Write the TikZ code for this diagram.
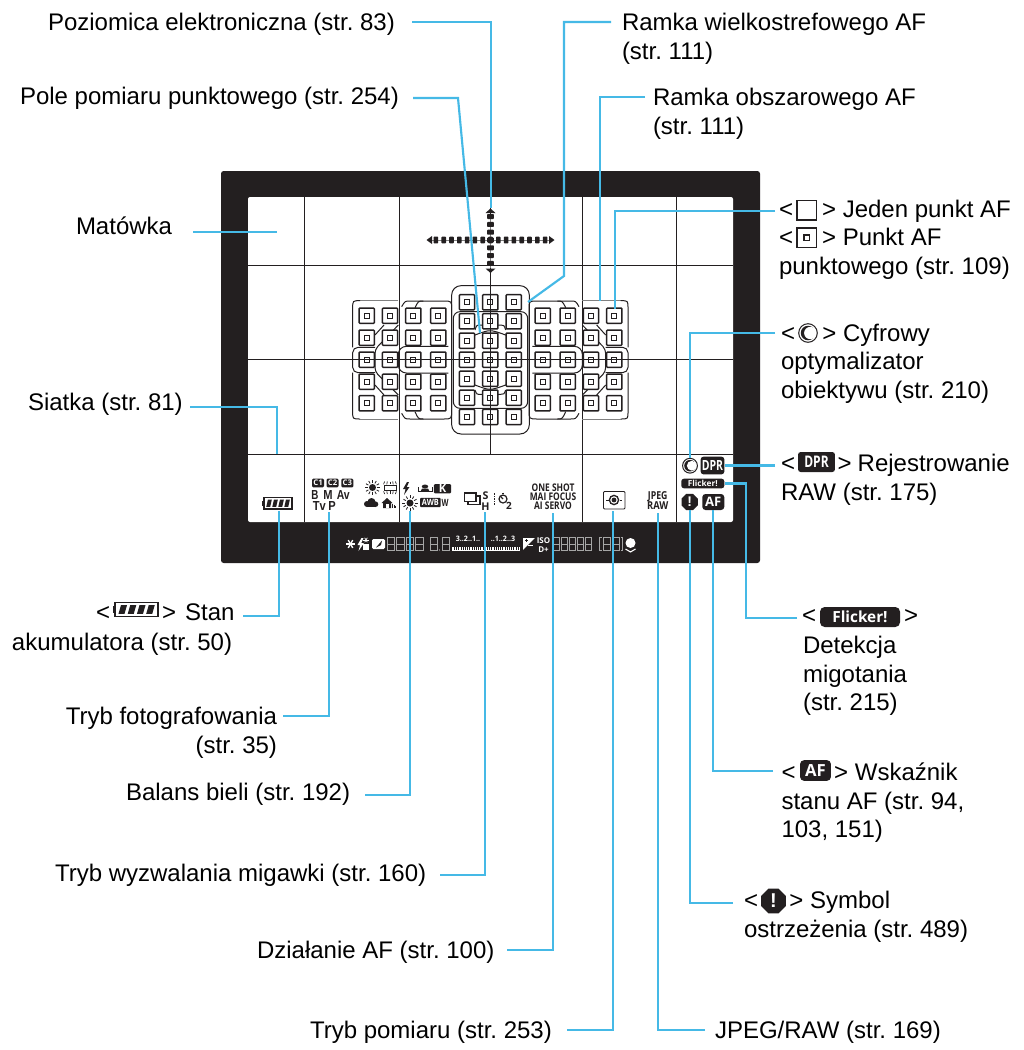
\documentclass[tikz,border=0pt]{standalone}
\usepackage{fontspec}
\usetikzlibrary{shapes.geometric}
\setmainfont{Liberation Sans}
\setsansfont{Open Sans}
\frenchspacing
\definecolor{ink}{HTML}{231F20}
\definecolor{lead}{HTML}{45B9E6}
\newcommand\mylab[4]{\node[lbl] (#1) at (#2,#3-18.67) {\rule{0pt}{14pt}#4};}
\newcommand\afpt[2]{\draw[afbox] (#1-7.6,#2-7.6) rectangle (#1+7.6,#2+7.6);\draw[afin] (#1-2.4,#2-2.4) rectangle (#1+2.4,#2+2.4);}
\newcommand\myseg[3]{\draw[lcd] (#1,#2) rectangle (#1+#3,#2+6.5) (#1,#2+6.5) rectangle (#1+#3,#2+13);}
\newcommand\mybolt[3]{\fill[#3] (#1+4,#2) -- (#1,#2+7) -- (#1+2.6,#2+7) -- (#1+1,#2+13) -- (#1+6.5,#2+5) -- (#1+3.8,#2+5) -- (#1+6,#2) -- cycle;}
\newcommand\mysun[3]{\fill[ink] (#1,#2) circle (#3*.5);\foreach \a in {0,30,...,330}{\draw[ink,line width=.6pt] (#1,#2) ++(\a:#3*.68) -- ++(\a:#3*.4);}}
\newcommand\mybatt[5]{% x y w h bar-width
  \fill[ink] (#1-2.5,#2+#4*.28) rectangle (#1,#2+#4*.72);
  \draw[ink,line width=1pt,fill=white] (#1,#2) rectangle (#1+#3,#2+#4);
  \foreach \i in {0,1,2,3}{\fill[ink] (#1+.09*#3+\i*.215*#3+.05*#3,#2+.18*#4) -- (#1+.09*#3+\i*.215*#3+.19*#3,#2+.18*#4) -- (#1+.09*#3+\i*.215*#3+.13*#3,#2+.82*#4) -- (#1+.09*#3+\i*.215*#3-.01*#3,#2+.82*#4) -- cycle;}}
\newcommand\mydlo[3]{% x y radius
  \fill[ink] (#1,#2) circle (#3*.78);
  \fill[white] (#1+#3*.24,#2) circle (#3*.66);
  \draw[ink,line width=.75pt] (#1,#2) circle (#3);}
\newcommand\leftzones{%
  \draw[zone,gray] (175,92) -- (60,92);
  \draw[zone] (60,92) .. controls (38,92) .. (38,115) -- (38,232);
  \draw[zone] (38,308) -- (38,425) .. controls (38,447) .. (60,447);
  \draw[zone,gray] (60,447) -- (175,447);
  \draw[zone] (185,110) .. controls (195,93) .. (210,93) -- (310,93) .. controls (335,93) .. (335,118) -- (335,420) .. controls (335,447) .. (310,447) -- (210,447) .. controls (195,447) .. (185,430);
  \draw[zone] (225,113) .. controls (235,93) .. (250,93);
  \draw[zone] (225,425) .. controls (235,447) .. (250,447);
  \draw[zone,rounded corners=6pt] (325,229) -- (175,229) -- (175,309) -- (325,309);
  \draw[zone,rounded corners=4pt] (105,232) -- (38,232) -- (38,308) -- (105,308);
  \draw[zone,rounded corners=3pt] (175,165) -- (105,238) -- (105,305) -- (175,375);
  \draw[zone] (105,195) -- (132,165);
  \draw[zone] (105,345) -- (132,375);
}
\tikzset{
  lbl/.style={anchor=north west,inner sep=0pt,outer sep=0pt,align=left,text=black,font=\fontsize{18}{21.4}\selectfont},
  lead/.style={draw=lead,line width=1.6pt},
  grid/.style={draw=ink,line width=.75pt},
  afbox/.style={draw=ink,line width=1.1pt,fill=white,rounded corners=.6pt},
  afin/.style={draw=ink,line width=.8pt},
  zone/.style={draw=ink,line width=.75pt},
  lcd/.style={draw=white!65!black,line width=.4pt},
  scrb/.style={inner sep=0pt,anchor=base,text=ink,font=\fontsize{9.8}{10}\selectfont\bfseries},
  scro/.style={inner sep=0pt,anchor=base,text=ink,font=\sffamily\fontsize{7.9}{8}\selectfont\bfseries},
  blackbox/.style={fill=ink,rounded corners=1.4pt,inner sep=0pt,text=white,font=\sffamily\bfseries},
  lcdt/.style={inner sep=0pt,anchor=base,text=white,font=\sffamily\bfseries\fontsize{5.6}{6}\selectfont},
}
\begin{document}
\begin{tikzpicture}[x=.75pt,y=-.75pt]
\useasboundingbox (0,0) rectangle (1024,1050);
\fill[white] (0,0) rectangle (1024,1050);
% frame and screen
\fill[ink,rounded corners=2pt] (221,171) rectangle (760,563);
\fill[white,rounded corners=1.5pt] (248,197) rectangle (733,522);
\foreach \x in {304.5,399.3,582.3,676}{\draw[grid] (\x,197) -- (\x,522);}
\draw[grid] (490.5,197) -- (490.5,454);
\foreach \y in {265,359.7,454}{\draw[grid] (248,\y) -- (733,\y);}
% AF zones
\begin{scope}[shift={(340,270)},x=.25pt,y=-.25pt]
  \leftzones
  \draw[zone,rounded corners=7pt] (335,47) rectangle (568,492);
  \draw[zone,rounded corners=5pt] (340,125) rectangle (563,415);
  \draw[zone] (370,235) .. controls (375,205) .. (405,195) .. controls (450,178) .. (497,195) .. controls (527,205) .. (532,235);
  \draw[zone] (370,305) .. controls (375,335) .. (405,345) .. controls (450,362) .. (497,345) .. controls (527,335) .. (532,305);
  \draw[zone] (405,180) .. controls (410,165) .. (422,165) -- (482,165) .. controls (492,165) .. (497,180);
  \draw[zone] (405,360) .. controls (410,373) .. (422,373) -- (482,373) .. controls (492,373) .. (497,360);
\end{scope}
\begin{scope}[shift={(640.67,270)},x=-.25pt,y=-.25pt]
  \leftzones
\end{scope}
% AF points
\foreach \x in {366.7,390,413.3,438.3,542.7,567.7,591,614.3}{\foreach \y in {315.7,337.7,359.7,381.7,403.3}{\afpt{\x}{\y}}}
\foreach \x in {467,490.3,513.7}{\foreach \y in {302.3,321.3,340.7,359.7,378.7,397.7,417}{\afpt{\x}{\y}}}
% grid lines over the AF points
\draw[grid] (340,359.7) -- (640,359.7);
\draw[grid] (490.5,272) -- (490.5,454);
% electronic level
\draw[line width=.7pt,gray] (430,240) -- (550,240);
\draw[line width=.7pt,gray] (490.5,214) -- (490.5,268);
\foreach \i in {-7,...,7}{\fill[ink,rounded corners=.5pt] (490.5+\i*7.8-2.3,236.7) rectangle (490.5+\i*7.8+2.3,243.3);}
\foreach \i in {-3,...,3}{\fill[ink,rounded corners=.5pt] (487.2,240+\i*7.8-2.5) rectangle (493.8,240+\i*7.8+2.5);}
\fill[ink] (426.5,240) -- (432,236) -- (432,244) -- cycle;
\fill[ink] (554.5,240) -- (549,236) -- (549,244) -- cycle;
\fill[ink] (490.5,208.5) -- (485.5,213) -- (495.5,213) -- cycle;
\fill[ink] (490.5,273) -- (485.5,268.5) -- (495.5,268.5) -- cycle;
% screen icons
\mybatt{264}{497.5}{28}{11.5}{}
\node[blackbox,minimum width=9pt,minimum height=6.4pt,rounded corners=.8pt,font=\sffamily\bfseries\fontsize{5.8}{6}\selectfont] (cone) at (318,483) {C1};
\node[blackbox,minimum width=9pt,minimum height=6.4pt,rounded corners=.8pt,font=\sffamily\bfseries\fontsize{5.8}{6}\selectfont] (ctwo) at (332.5,483) {C2};
\node[blackbox,minimum width=9pt,minimum height=6.4pt,rounded corners=.8pt,font=\sffamily\bfseries\fontsize{5.8}{6}\selectfont] (cthree) at (347.3,483) {C3};
\node[scrb] (bmode) at (315,499) {\scalebox{.75}[1]{B}};
\node[scrb] (mmode) at (328,499) {\scalebox{.85}[1]{M}};
\node[scrb] (avmode) at (343.3,499) {\scalebox{.8}[1]{Av}};
\node[scrb] (tvmode) at (319.3,510) {\scalebox{.85}[1]{Tv}};
\node[scrb] (pmode) at (332,510) {\scalebox{.85}[1]{P}};
\mysun{372.5}{487.5}{7}
\draw[ink,line width=.7pt] (384,485.5) rectangle (396,490);
\foreach \i in {-2,...,2}{\draw[ink,line width=.5pt] (390+\i*2.7,481.5) -- (390+\i*3.2,484.3);\draw[ink,line width=.5pt] (390+\i*2.7,494) -- (390+\i*3.2,491.3);}
\fill[ink] (367,504) circle (3);\fill[ink] (371.5,502) circle (4);\fill[ink] (375.5,504.2) circle (2.8);\fill[ink] (367,504) rectangle (375.5,507);
\fill[ink] (381.5,503) -- (387,498) -- (392.5,503) -- (391,503) -- (391,508) -- (383,508) -- (383,503) -- cycle;
\fill[white] (385.5,504) rectangle (388.5,508);
\foreach \i in {0,1,2}{\draw[ink,line width=.4pt] (392.5+\i*1.6,503.5+\i*1.4) -- (392.5+\i*1.6,508);}
\mybolt{403}{482}{ink}
\fill[ink] (425,486.5) ellipse (3.2 and 2);
\draw[ink,line width=.7pt] (418,487) -- (418,491.5) -- (432,491.5) -- (432,487);
\fill[ink] (420.5,491.5) -- (422,488.5) -- (428,488.5) -- (429.5,491.5) -- cycle;
\node[blackbox,minimum width=12.8pt,minimum height=7pt,rounded corners=.8pt,font=\sffamily\bfseries\fontsize{8.4}{9}\selectfont] (kbox) at (442.5,488.7) {K};
\mysun{410}{503}{7}
\node[blackbox,minimum width=15.5pt,minimum height=7pt,rounded corners=.8pt,font=\sffamily\bfseries\fontsize{6.5}{7}\selectfont] (awb) at (430.4,502.5) {\scalebox{.85}[1]{AWB}};
\node[scrb,font=\sffamily\bfseries\fontsize{7.5}{8}\selectfont] (awbw) at (445,506.5) {\scalebox{.72}[1]{W}};
\draw[ink,line width=.8pt,fill=white] (468,496) rectangle (480,504.5);
\draw[ink,line width=.8pt,fill=white] (464.5,493) rectangle (476,501.5);
\node[scro,font=\sffamily\bfseries\fontsize{8}{9}\selectfont] (drs) at (485.5,499) {S};
\node[scro,font=\sffamily\bfseries\fontsize{8}{9}\selectfont] (drh) at (485.5,510) {H};
\foreach \y in {493,495.5,498,500.5,503.2}{\fill[ink] (493.5,\y) rectangle (495,\y+1.6);}
\draw[ink,line width=.9pt] (503,499) circle (4);
\draw[ink,line width=.9pt] (503,499) -- (500.5,496.3);
\draw[ink,line width=.9pt] (503,492.5) -- (503,494);
\node[scro,font=\sffamily\bfseries\fontsize{7.5}{8}\selectfont] (timertwo) at (509,509.7) {2};
\node[scro] (oneshot) at (553,491.7) {\scalebox{.8}[1]{ONE SHOT}};
\node[scro] (maifocus) at (553,500.4) {\scalebox{.8}[1]{MAI FOCUS}};
\node[scro] (aiservo) at (553,509.4) {\scalebox{.8}[1]{AI SERVO}};
\draw[ink,line width=.7pt,rounded corners=.8pt] (603.5,491.5) rectangle (625,509);
\draw[ink,line width=1pt] (614,500) circle (4.6);
\fill[ink] (614,500) circle (2.4);
\draw[ink,line width=.6pt] (606,500) -- (608.5,500) (619.5,500) -- (622,500);
\node[scro,font=\sffamily\bfseries\fontsize{8.2}{9}\selectfont] (jpegt) at (657.7,499) {\scalebox{.8}[1]{JPEG}};
\node[scro,font=\sffamily\bfseries\fontsize{8.2}{9}\selectfont] (rawt) at (657.7,509.5) {\scalebox{.85}[1]{RAW}};
% right-hand indicators
\node[circle,minimum size=11.5pt,inner sep=0pt] (dlo) at (690,465.7) {};
\mydlo{690}{465.7}{7.4}
\node[blackbox,minimum width=17.7pt,minimum height=13.2pt,rounded corners=2pt,font=\sffamily\bfseries\fontsize{10.5}{11}\selectfont] (dprbox) at (712.5,465.5) {\scalebox{.75}[1]{DPR}};
\node[blackbox,minimum width=32.3pt,minimum height=7.2pt,rounded corners=2pt,font=\sffamily\bfseries\fontsize{6.2}{7}\selectfont] (flickbox) at (702.8,483.5) {Flicker!};
\node[regular polygon,regular polygon sides=8,fill=ink,minimum size=13.2pt,inner sep=0pt] (warn) at (689.7,502) {};
\node[inner sep=0pt,text=white,font=\bfseries\fontsize{10.5}{11}\selectfont] at (689.7,502) {!};
\node[blackbox,minimum width=16.5pt,minimum height=12pt,rounded corners=2.4pt,font=\sffamily\bfseries\fontsize{9.8}{10}\selectfont] (afbox2) at (713.3,502) {AF};
% LCD strip
\foreach \a in {0,60,120}{\draw[white,line width=1pt] (350.5,544) ++(\a:4.5) -- ++(\a+180:9);}
\mybolt{357.5}{538}{white}
\foreach \a in {0,60,120}{\draw[white,line width=.5pt] (366,540) ++(\a:2.6) -- ++(\a+180:5.2);}
\fill[white] (363,544) rectangle (369,550);
\fill[white,rounded corners=1pt] (372,539) rectangle (385,549);
\fill[ink] (376,547.5) -- (382,540.5) -- (381,545) -- cycle;
\foreach \x in {387,396.5,406,415.5}{\myseg{\x}{537.5}{7.6}}
\myseg{430}{537.5}{7.6}
\fill[white!75!black] (439.5,550) circle (.6);
\myseg{442}{537.5}{7.6}
\node[lcdt] (scaleminus) at (468,541.7) {\scalebox{.95}[1]{3..2..1..}};
\node[lcdt] (scaleplus) at (503,541.7) {\scalebox{.95}[1]{..1..2..3}};
\fill[white] (452,546) rectangle (520,551);
\foreach \x in {454,456.2,...,518}{\fill[ink] (\x,545) rectangle (\x+.7,550);}
\draw[ink,line width=.4pt] (452,545.8) -- (520,545.8);
\fill[white] (523,538) rectangle (535,550);
\fill[ink] (535,538) -- (535,550) -- (523,550) -- cycle;
\fill[white] (528,544.5) rectangle (532.5,545.5);
\draw[ink,line width=.7pt] (525,540.5) -- (528,540.5) (526.5,539) -- (526.5,542);
\node[lcdt,font=\sffamily\bfseries\fontsize{6}{6}\selectfont] (isot) at (543.5,543.5) {ISO};
\node[lcdt,font=\sffamily\bfseries\fontsize{6}{6}\selectfont] (dplus) at (543.5,552) {D+};
\foreach \x in {553,561,569,577,585}{\myseg{\x}{537.5}{6.6}}
\draw[lcd] (601.5,537.5) -- (599.5,537.5) -- (599.5,550.5) -- (601.5,550.5);
\myseg{603}{537.5}{7}
\myseg{612}{537.5}{7}
\draw[lcd] (620.5,537.5) -- (622.5,537.5) -- (622.5,550.5) -- (620.5,550.5);
\fill[white] (630.5,543) circle (5);
\draw[white,line width=.8pt] (625.5,549) -- (630.5,552) -- (635.5,549);
% labels
\mylab{poz}{48}{30.5}{Poziomica elektroniczna (str. 83)}
\mylab{pole}{20}{104.5}{Pole pomiaru punktowego (str. 254)}
\mylab{mat}{76}{234.5}{Matówka}
\mylab{siat}{28}{410.5}{Siatka (str. 81)}
\mylab{stan}{96}{620.5}{<\hspace*{39pt}> \hspace*{1.8pt}Stan}
\mylab{aku}{12}{650.5}{akumulatora (str. 50)}
\node[lbl,align=right,anchor=north east] (tryb) at (277,705.83) {\rule{0pt}{14pt}Tryb fotografowania\\(str. 35)};
\mylab{bal}{126}{800.5}{Balans bieli (str. 192)}
\mylab{wyz}{55}{881.5}{Tryb wyzwalania migawki (str. 160)}
\mylab{dzi}{257}{958.5}{Działanie AF (str. 100)}
\mylab{pom}{310}{1038.5}{Tryb pomiaru (str. 253)}
\mylab{jpg}{715}{1038.5}{JPEG/RAW (str. 169)}
\mylab{wie}{622}{30.5}{Ramka wielkostrefowego AF\\(str. 111)}
\mylab{obs}{653}{105.5}{Ramka obszarowego AF\\(str. 111)}
\mylab{jed}{779}{217.2}{<\hspace*{21.8pt}> Jeden punkt AF\\<\hspace*{21.8pt}> Punkt AF\\punktowego (str. 109)}
\mylab{cyf}{781}{341.2}{<\hspace*{20.6pt}> Cyfrowy\\optymalizator\\obiektywu (str. 210)}
\mylab{rej}{781}{471.5}{<\hspace*{32pt}>\hspace*{4.5pt}Rejestrowanie\\RAW (str. 175)}
\mylab{fli}{802}{623.5}{<\hspace*{66pt}>}
\mylab{det}{803}{653.5}{Detekcja\\migotania\\(str. 215)}
\mylab{wsk}{781.5}{780.5}{<\hspace*{29pt}> Wskaźnik\\stanu AF (str. 94,\\103, 151)}
\mylab{sym}{744}{908.5}{<\hspace*{23.6pt}> Symbol\\ostrzeżenia (str. 489)}
% label icons
\mybatt{115}{602.5}{43}{14}{}
\draw[ink,line width=.85pt] (797,200.5) rectangle (816.5,220);
\draw[ink,line width=.85pt] (797,228) rectangle (816.5,247.5);
\draw[ink,line width=.85pt] (804,235) rectangle (809.5,240.5);
\node[circle,minimum size=14pt,inner sep=0pt] (dlotwo) at (808,333) {};
\mydlo{808}{333}{9.3}
\node[blackbox,minimum width=27.7pt,minimum height=15pt,rounded corners=2pt,font=\sffamily\bfseries\fontsize{12}{13}\selectfont] (dprlab) at (816.5,462) {\scalebox{.75}[1]{DPR}};
\node[blackbox,minimum width=60pt,minimum height=15pt,rounded corners=3.5pt,font=\sffamily\bfseries\fontsize{11.5}{12}\selectfont] (flilab) at (860,617) {Flicker!};
\node[blackbox,minimum width=23.2pt,minimum height=15.5pt,rounded corners=3pt,font=\sffamily\bfseries\fontsize{12.5}{13}\selectfont] (aflab) at (815.5,770.5) {AF};
\node[regular polygon,regular polygon sides=8,fill=ink,minimum size=20pt,inner sep=0pt] (warnlab) at (773.5,901) {};
\node[inner sep=0pt,text=white,font=\bfseries\fontsize{15}{16}\selectfont] at (773.5,901) {!};
% connector ends
\coordinate (pozA) at (412,22);   \coordinate (pozB) at (491,208);
\coordinate (poleA) at (413,98);  \coordinate (poleB) at (458,98);  \coordinate (poleC) at (480,333);
\coordinate (matA) at (193,232);  \coordinate (matB) at (277,232);
\coordinate (siatA) at (190,407); \coordinate (siatB) at (277,454);
\coordinate (stanA) at (243,616); \coordinate (stanB) at (279,511);
\coordinate (trybA) at (283,716); \coordinate (trybB) at (329,512);
\coordinate (balA) at (365,795);  \coordinate (balB) at (410,511);
\coordinate (wyzA) at (440,875);  \coordinate (wyzB) at (485,512);
\coordinate (dziA) at (507,950);  \coordinate (dziB) at (553,513);
\coordinate (pomA) at (567,1030); \coordinate (pomB) at (613,511);
\coordinate (jpgA) at (705,1030); \coordinate (jpgB) at (658,513);
\coordinate (wieA) at (611,22);   \coordinate (wieB) at (564,276);  \coordinate (wieC) at (528,302);
\coordinate (obsA) at (645,97);   \coordinate (obsB) at (600,301);
\coordinate (jedA) at (775,211);  \coordinate (jedB) at (615,309);
\coordinate (cyfA) at (775,333);
\coordinate (rejA) at (775,465.5);
\coordinate (fliA) at (797,618);  \coordinate (fliB) at (746,483.5);
\coordinate (wskA) at (773,771);
\coordinate (symA) at (733,903);
% connectors
\draw[lead] (pozA) -| (pozB);
\draw[lead] (poleA) -- (poleB) -- (poleC);
\draw[lead] (matA) -- (matB);
\draw[lead] (siatA) -| (siatB);
\draw[lead] (stanA) -| (stanB);
\draw[lead] (trybA) -| (trybB);
\draw[lead] (balA) -| (balB);
\draw[lead] (wyzA) -| (wyzB);
\draw[lead] (dziA) -| (dziB);
\draw[lead] (pomA) -| (pomB);
\draw[lead] (jpgA) -| (jpgB);
\draw[lead] (wieA) -| (wieB) -- (wieC);
\draw[lead] (obsA) -| (obsB);
\draw[lead] (jedA) -| (jedB);
\draw[lead] (cyfA) -| (dlo.north);
\draw[lead] (rejA) -- (dprbox.east);
\draw[lead] (fliA) -| (fliB) -- (flickbox.east);
\draw[lead] (wskA) -| (afbox2.south);
\draw[lead] (symA) -| (warn.south);
\end{tikzpicture}
\end{document}
